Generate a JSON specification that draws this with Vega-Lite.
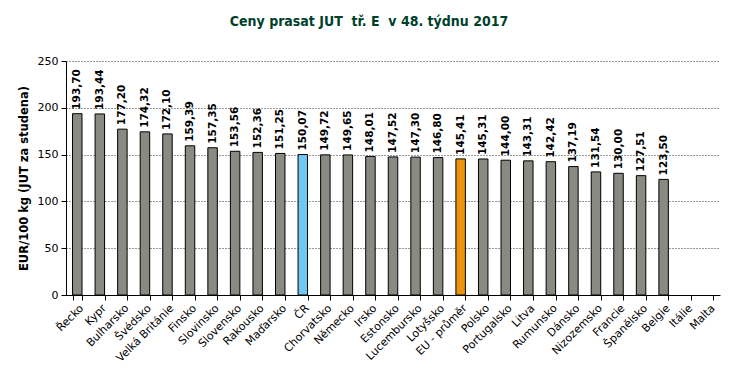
{
  "$schema": "https://vega.github.io/schema/vega-lite/v6.json",
  "width": 654,
  "height": 234,
  "autosize": {"type": "none"},
  "padding": {"left": 66, "top": 61, "right": 14, "bottom": 91},
  "background": "white",
  "title": {
    "text": "Ceny prasat JUT\u00a0\u00a0tř. E\u00a0\u00a0v 48. týdnu 2017",
    "font": "DejaVu Sans Condensed",
    "fontSize": 14,
    "fontWeight": "bold",
    "color": "#003f2c",
    "anchor": "middle",
    "dx": -24,
    "offset": 26
  },
  "config": {
    "locale": {"number": {"decimal": ",", "thousands": " ", "grouping": [3], "currency": ["", " €"]}},
    "view": {"stroke": null},
    "font": "DejaVu Sans",
    "axis": {"labelFont": "DejaVu Sans", "labelColor": "#000", "labelFontSize": 10.5, "domainColor": "#000", "tickColor": "#000", "titleColor": "#000"}
  },
  "data": {
    "values": [
      {"country": "Řecko", "price": 193.70},
      {"country": "Kypr", "price": 193.44},
      {"country": "Bulharsko", "price": 177.20},
      {"country": "Švédsko", "price": 174.32},
      {"country": "Velká Británie", "price": 172.10},
      {"country": "Finsko", "price": 159.39},
      {"country": "Slovinsko", "price": 157.35},
      {"country": "Slovensko", "price": 153.56},
      {"country": "Rakousko", "price": 152.36},
      {"country": "Maďarsko", "price": 151.25},
      {"country": "ČR", "price": 150.07},
      {"country": "Chorvatsko", "price": 149.72},
      {"country": "Německo", "price": 149.65},
      {"country": "Irsko", "price": 148.01},
      {"country": "Estonsko", "price": 147.52},
      {"country": "Lucembursko", "price": 147.30},
      {"country": "Lotyšsko", "price": 146.80},
      {"country": "EU - průměr", "price": 145.41},
      {"country": "Polsko", "price": 145.31},
      {"country": "Portugalsko", "price": 144.00},
      {"country": "Litva", "price": 143.31},
      {"country": "Rumunsko", "price": 142.42},
      {"country": "Dánsko", "price": 137.19},
      {"country": "Nizozemsko", "price": 131.54},
      {"country": "Francie", "price": 130.00},
      {"country": "Španělsko", "price": 127.51},
      {"country": "Belgie", "price": 123.50},
      {"country": "Itálie", "price": null},
      {"country": "Malta", "price": null}
    ]
  },
  "encoding": {
    "x": {
      "field": "country",
      "type": "nominal",
      "sort": null,
      "scale": {
        "domain": ["Řecko", "Kypr", "Bulharsko", "Švédsko", "Velká Británie", "Finsko", "Slovinsko", "Slovensko", "Rakousko", "Maďarsko", "ČR", "Chorvatsko", "Německo", "Irsko", "Estonsko", "Lucembursko", "Lotyšsko", "EU - průměr", "Polsko", "Portugalsko", "Litva", "Rumunsko", "Dánsko", "Nizozemsko", "Francie", "Španělsko", "Belgie", "Itálie", "Malta"],
        "paddingInner": 0.58,
        "paddingOuter": 0.29
      },
      "axis": {
        "title": null,
        "labelAngle": -45,
        "tickBand": "extent",
        "tickSize": 5,
        "labelPadding": 2,
        "labelFontSize": 11,
        "grid": false
      }
    },
    "y": {
      "field": "price",
      "type": "quantitative",
      "scale": {"domain": [0, 250], "nice": false},
      "axis": {
        "title": "EUR/100 kg (JUT za studena)",
        "titleFont": "DejaVu Sans",
        "titleFontSize": 11.5,
        "titleFontWeight": "bold",
        "titlePadding": 8,
        "values": [0, 50, 100, 150, 200, 250],
        "tickSize": 5,
        "labelPadding": 3,
        "labelFontSize": 11,
        "grid": true,
        "gridColor": "#333",
        "gridDash": [1, 2],
        "gridWidth": 1
      }
    }
  },
  "layer": [
    {
      "mark": {"type": "bar", "stroke": "#000", "strokeWidth": 1},
      "encoding": {
        "color": {
          "condition": [
            {"test": "datum.country == 'ČR'", "value": "#6ec8f2"},
            {"test": "datum.country == 'EU - průměr'", "value": "#e8940f"}
          ],
          "value": "#8a8a82"
        }
      }
    },
    {
      "transform": [{"filter": "datum.price != null"}],
      "mark": {"type": "text", "angle": 270, "align": "left", "baseline": "middle", "dx": 4, "font": "DejaVu Sans", "fontSize": 10.5, "fontWeight": "bold", "color": "#000"},
      "encoding": {
        "text": {"field": "price", "type": "quantitative", "format": ".2f"}
      }
    }
  ]
}
